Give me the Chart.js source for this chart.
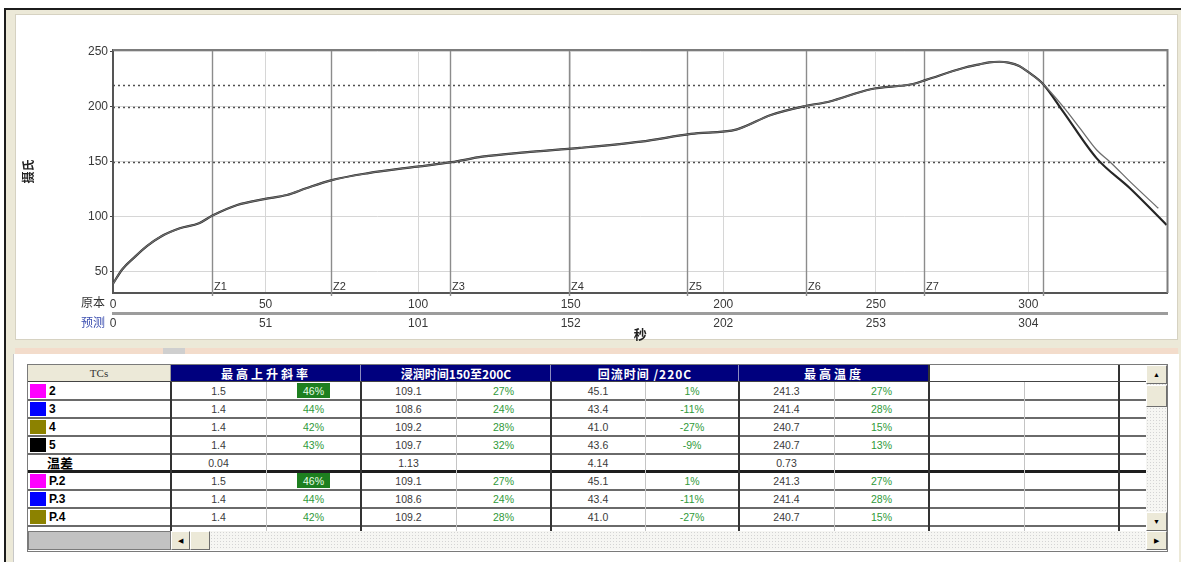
<!DOCTYPE html>
<html><head><meta charset="utf-8">
<script src="https://cdn.jsdelivr.net/npm/chart.js@4.4.1/dist/chart.umd.min.js"></script>
<style>
html,body{margin:0;padding:0;background:#fff;width:1181px;height:562px;overflow:hidden;font-family:"Liberation Sans",Arial,sans-serif;}
#frame{position:absolute;left:4px;top:8px;width:1177px;height:554px;background:#ece9d8;border-top:2px solid #1c1c1c;border-left:2px solid #1c1c1c;box-sizing:border-box;}
#upper{position:absolute;left:15px;top:14px;width:1163px;height:326px;background:#fff;border:1px solid #d6d2c2;box-sizing:border-box;}
#pink{position:absolute;left:15px;top:348px;width:1163px;height:6px;background:#f3dccb;}
#grip{position:absolute;left:163px;top:348px;width:22px;height:6px;background:#cfcfcf;}
#lower{position:absolute;left:13px;top:354px;width:1165px;height:208px;background:#fff;border-left:1px solid #c8c8c8;}
#chart{position:absolute;left:15px;top:14px;}
.c{position:absolute;box-sizing:border-box;}
.btn{background:#ece9d8;border:1px solid;border-color:#fff #6e6e6e #6e6e6e #fff;font-size:7px;line-height:17px;text-align:center;color:#000;}
.dots{background-color:#f6f6f3;background-image:radial-gradient(#d4d4d4 0.7px,transparent 1px);background-size:3px 3px;}
</style></head>
<body>
<div id="frame"></div>
<div id="upper"></div>
<div id="pink"></div><div id="grip"></div>
<div id="lower"></div>
<canvas id="chart" width="1163" height="334"></canvas>
<script>
// ---------- chart data ----------
const measTime = [0, 3, 7, 11, 15.6, 21.9, 28.2, 32.6, 40.7, 49.5, 57, 63.3, 71.4, 83.3, 99.7, 111, 121, 135, 153, 173, 189.4, 204.5, 215.6, 227, 234.6, 248.3, 262.2, 266.5, 278.4, 284, 287.2, 290.5, 293.5, 297, 299.8, 304.8, 311.4, 322.4, 333.3, 345.3];
const measTemp = [39, 52, 63, 73, 81.8, 89.4, 94, 101, 110.6, 116, 119.7, 125.8, 133, 139.4, 145.5, 149.5, 154.5, 158.5, 162.5, 168.2, 175.2, 179.4, 192.4, 200.6, 204.5, 215.8, 220.6, 224.3, 234.9, 238.5, 240.3, 240.8, 240, 237, 231.8, 220.6, 195.5, 153, 125.8, 92.5];
const predTime = [0, 3, 7, 11, 15.6, 21.9, 28.2, 32.6, 40.7, 49.5, 57, 63.3, 71.4, 83.3, 99.7, 111, 121, 135, 153, 173, 189.4, 204.5, 215.6, 227, 234.6, 248.3, 262.2, 266.5, 278.4, 284, 287.2, 290.5, 293.5, 297, 299.8, 304.8, 311.4, 317, 322.4, 326.7, 334, 342.6];
const predTemp = [39, 52, 63, 73, 81.8, 89.4, 94, 101, 110.6, 116, 119.7, 125.8, 133, 139.4, 145.5, 149.5, 154.5, 158.5, 162.5, 168.2, 175.2, 179.4, 192.4, 200.6, 204.5, 215.8, 220.6, 224.3, 234.9, 238.5, 240.3, 240.8, 240, 237, 231.8, 220.6, 200, 180, 160.6, 150, 130, 107.6];
const zoneTimes = [32.6, 71.4, 110.3, 149.3, 188.2, 227.0, 265.9, 304.8];
const zoneLabels = ['Z1', 'Z2', 'Z3', 'Z4', 'Z5', 'Z6', 'Z7', ''];
const limitTemps = [150, 200, 220];
const predTickLabels = ['0', '51', '101', '152', '202', '253', '304'];
const rowTitles = ['原本', '预测'];

// ---------- table data ----------
const headers = ['最高上升斜率', '浸润时间150至200C', '回流时间 /220C', '最高温度'];
const tcNames = ['2', '3', '4', '5', '温差', 'P.2', 'P.3', 'P.4'];
const tcColors = ['#ff00ff', '#0000ff', '#8c8200', '#000000', '', '#ff00ff', '#0000ff', '#8c8200'];
const slopeVal = ['1.5', '1.4', '1.4', '1.4', '0.04', '1.5', '1.4', '1.4'];
const slopePct = ['46%', '44%', '42%', '43%', '', '46%', '44%', '42%'];
const slopeFlag = [1, 0, 0, 0, 0, 1, 0, 0];
const soakVal = ['109.1', '108.6', '109.2', '109.7', '1.13', '109.1', '108.6', '109.2'];
const soakPct = ['27%', '24%', '28%', '32%', '', '27%', '24%', '28%'];
const reflowVal = ['45.1', '43.4', '41.0', '43.6', '4.14', '45.1', '43.4', '41.0'];
const reflowPct = ['1%', '-11%', '-27%', '-9%', '', '1%', '-11%', '-27%'];
const peakVal = ['241.3', '241.4', '240.7', '240.7', '0.73', '241.3', '241.4', '240.7'];
const peakPct = ['27%', '28%', '15%', '13%', '', '27%', '28%', '15%'];

// ---------- chart ----------
const decor = {
  id: 'decor',
  beforeDatasetsDraw(chart) {
    const {ctx, chartArea: a, scales: {x, y}} = chart;
    ctx.save();
    ctx.strokeStyle = '#8c8c8c'; ctx.lineWidth = 1.4;
    zoneTimes.forEach(t => {
      const px = Math.round(x.getPixelForValue(t)) + 0.5;
      ctx.beginPath(); ctx.moveTo(px, a.top); ctx.lineTo(px, a.bottom + 3); ctx.stroke();
    });
    ctx.setLineDash([2, 3]); ctx.strokeStyle = '#505050'; ctx.lineWidth = 1.6;
    limitTemps.forEach(v => {
      const py = Math.round(y.getPixelForValue(v)) + 0.5;
      ctx.beginPath(); ctx.moveTo(a.left, py); ctx.lineTo(a.right, py); ctx.stroke();
    });
    ctx.setLineDash([]);
    ctx.fillStyle = '#333'; ctx.font = '11px "Liberation Sans"'; ctx.textBaseline = 'alphabetic'; ctx.textAlign = 'left';
    zoneTimes.forEach((t, i) => {
      ctx.fillText(zoneLabels[i], Math.round(x.getPixelForValue(t)) + 2, a.bottom - 3);
    });
    ctx.restore();
  },
  afterDraw(chart) {
    const {ctx, chartArea: a, scales: {x, x2}} = chart;
    ctx.save();
    ctx.strokeStyle = '#7c7c7c'; ctx.lineWidth = 2;
    ctx.beginPath(); ctx.moveTo(a.left, a.top); ctx.lineTo(a.right, a.top); ctx.lineTo(a.right, a.bottom); ctx.stroke();
    ctx.font = '12px "Noto Sans CJK SC"'; ctx.textAlign = 'right'; ctx.textBaseline = 'middle';
    ctx.fillStyle = '#333';
    ctx.fillText(rowTitles[0], a.left - 8, (x.top + x.bottom) / 2 - 1);
    ctx.fillStyle = '#3c4fb0';
    ctx.fillText(rowTitles[1], a.left - 8, x2.top + 9);
    ctx.restore();
  }
};

const tickFont = {size: 12, family: '"Liberation Sans", Arial, sans-serif'};
new Chart(document.getElementById('chart'), {
  type: 'line',
  data: {
    datasets: [
      {label: '预测', data: predTime.map((t, i) => ({x: t, y: predTemp[i]})), borderColor: '#6e6e6e', borderWidth: 1.3, pointRadius: 0, cubicInterpolationMode: 'monotone', xAxisID: 'x', yAxisID: 'y'},
      {label: '5', data: measTime.map((t, i) => ({x: t, y: measTemp[i]})), borderColor: '#262626', borderWidth: 2.2, pointRadius: 0, cubicInterpolationMode: 'monotone', xAxisID: 'x', yAxisID: 'y'}
    ]
  },
  options: {
    responsive: false, animation: false, events: [],
    layout: {padding: {top: 36, right: 10.5, left: 0, bottom: 0}},
    plugins: {legend: {display: false}, tooltip: {enabled: false}},
    scales: {
      x: {type: 'linear', position: 'bottom', weight: 1, min: 0, max: 345.6,
        ticks: {stepSize: 50, includeBounds: false, color: '#383838', font: tickFont, padding: 4, maxRotation: 0, autoSkip: false},
        grid: {color: '#d6d6d6', lineWidth: 1, drawTicks: false},
        border: {color: '#555', width: 2},
        afterFit(s) { s.height = 20; }},
      x2: {type: 'linear', position: 'bottom', weight: 2, min: 0, max: 345.6,
        ticks: {stepSize: 50, includeBounds: false, color: '#383838', font: tickFont, padding: 3, maxRotation: 0, autoSkip: false,
          callback: (v, i) => predTickLabels[i] ?? ''},
        grid: {drawOnChartArea: false, drawTicks: false, color: 'rgba(0,0,0,0)'},
        border: {color: '#9c9c9c', width: 3},
        title: {display: true, text: '秒', color: '#222', font: {size: 13, weight: 'bold', family: '"Noto Sans CJK SC"'}, padding: {top: 0, bottom: 6}},
        afterFit(s) { s.height = 35; }},
      y: {min: 30.6, max: 251.5,
        ticks: {stepSize: 50, includeBounds: false, color: '#383838', font: tickFont, padding: 2},
        grid: {color: '#d6d6d6', drawTicks: true, tickLength: 3, tickColor: '#444'},
        border: {color: '#555', width: 2},
        title: {display: true, text: '摄氏', color: '#222', font: {size: 12, weight: 'bold', family: '"Noto Sans CJK SC"'}, padding: {top: 6, bottom: 0}},
        afterFit(s) { s.width = 98; }}
    }
  },
  plugins: [decor]
});

// ---------- table ----------
function el(x, y, w, h, css, txt, cls) {
  const d = document.createElement('div');
  d.className = 'c' + (cls ? ' ' + cls : '');
  d.style.cssText = `left:${x}px;top:${y}px;width:${w}px;height:${h}px;${css || ''}`;
  if (txt != null) d.textContent = txt;
  document.body.appendChild(d);
  return d;
}
const colX = [171, 266, 361, 456, 551, 645, 739, 834, 929, 1024, 1119, 1146];
const tTop = 365, hH = 17, rH = 18, rTop = 382, tLeft = 28, gridR = 1146;

el(27, 364, 1141, 188, 'border:1px solid #7a7a7a;');
// header
el(tLeft, tTop, colX[0] - tLeft, hH, 'background:#ece9d8;text-align:center;font:11px "Liberation Serif",serif;line-height:17px;color:#333;border-right:1px solid #999;', 'TCs');
el(colX[0], tTop, colX[8] - colX[0], hH, 'background:#00007e;');
headers.forEach((h, g) => {
  el(colX[2 * g], tTop, colX[2 * g + 2] - colX[2 * g], hH,
    'color:#fff;text-align:center;font:bold 12px "Noto Sans CJK SC";line-height:17px;letter-spacing:' + (g === 1 ? '0px' : (g === 2 ? '1px' : '3px')) + ';white-space:nowrap;', h);
  if (g > 0) el(colX[2 * g] - 1, tTop, 1, hH, 'background:#8c8cc0;');
});
// rows
tcNames.forEach((name, i) => {
  const top = rTop + i * rH;
  if (tcColors[i]) {
    el(30, top + 2, 16, 14, 'background:' + tcColors[i] + ';');
    el(49, top, 110, rH, 'font:bold 12px "Liberation Sans";line-height:18px;color:#000;', name);
  } else {
    el(47, top, 110, rH, 'font:bold 13px "Noto Sans CJK SC";line-height:18px;color:#000;', name);
  }
  const cells = [slopeVal[i], slopePct[i], soakVal[i], soakPct[i], reflowVal[i], reflowPct[i], peakVal[i], peakPct[i]];
  cells.forEach((v, k) => {
    const x0 = colX[k], w = colX[k + 1] - colX[k];
    if (k === 1 && slopeFlag[i]) {
      el(x0 + 31, top + 1, 33, 15, 'background:#1d7f1f;');
      el(x0, top, w, rH, 'text-align:center;font:10.5px "Liberation Sans";line-height:18px;color:#e8ffe8;', v);
    } else {
      el(x0, top, w, rH, 'text-align:center;font:10.5px "Liberation Sans";line-height:18px;color:' + (k % 2 ? '#2f9a3a' : '#3a3a3a') + ';', v);
    }
  });
});
// grid lines
el(tLeft, rTop - 1, gridR - tLeft, 1, 'background:#444;');
tcNames.forEach((n, i) => {
  const yb = rTop + (i + 1) * rH;
  if (i === 4) el(tLeft, yb - 2, gridR - tLeft, 3, 'background:#1e1e1e;');
  else el(tLeft, yb - 1, gridR - tLeft, 2, 'background:#6a6a6a;');
});
[1, 3, 5, 7, 9].forEach(k => el(colX[k], rTop, 1, 531 - rTop, 'background:#c4c4c4;'));
[0, 2, 4, 6].forEach(k => el(colX[k] - 1, rTop, 2, 531 - rTop, 'background:#333;'));
[8, 10].forEach(k => el(colX[k] - 1, tTop, 2, 531 - tTop, 'background:#333;'));
el(colX[8], rTop - 1, gridR - colX[8], 1, 'background:#444;');
// vertical scrollbar
el(1146, 365, 21, 166, '', null, 'dots');
el(1146, 365, 21, 19, '', '▲', 'btn');
el(1146, 385, 21, 22, '', null, 'btn');
el(1146, 512, 21, 19, '', '▼', 'btn');
// horizontal scrollbar
el(28, 531, 143, 19, 'background:#c2c2c2;border:1px solid #7a7a7a;');
el(171, 531, 975, 19, '', null, 'dots');
el(171, 531, 19, 19, '', '◀', 'btn');
el(190, 531, 20, 19, '', null, 'btn');
el(1146, 531, 21, 19, '', '▶', 'btn');
</script>
</body></html>
